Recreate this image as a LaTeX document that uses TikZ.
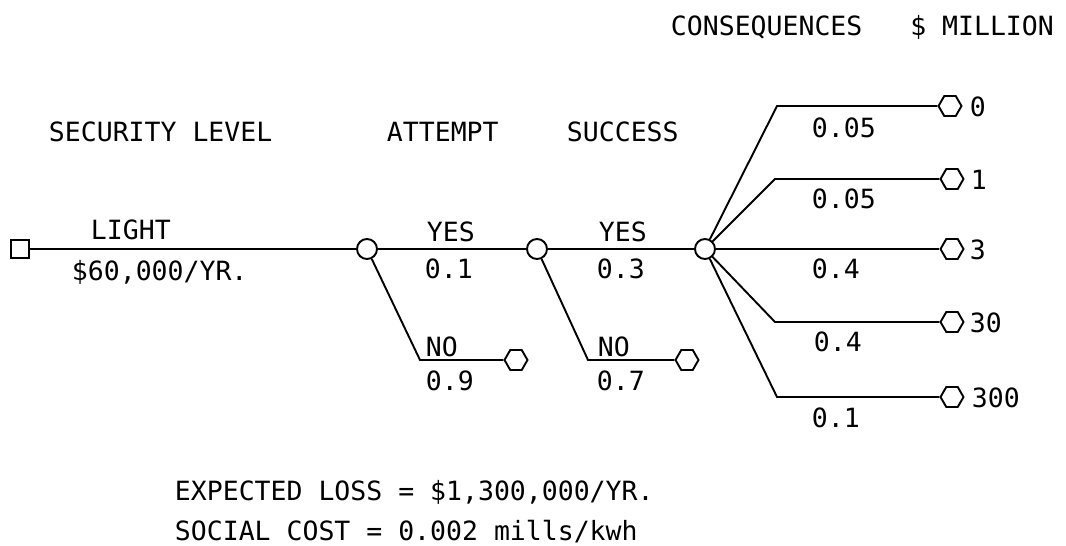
\documentclass[tikz,border=0pt]{standalone}
\usepackage{fontspec}
\setmainfont{DejaVu Sans Mono}
\usetikzlibrary{shapes.geometric}
\begin{document}
\begin{tikzpicture}[x=1pt,y=-1pt,
  every path/.style={line width=1.9pt},
  lbl/.style={anchor=base west, inner sep=0pt, font=\fontsize{26.5}{30}\selectfont},
  decbox/.style={draw, rectangle, minimum size=18pt, inner sep=0pt, line width=1.9pt},
  chance/.style={draw, circle, minimum size=20pt, inner sep=0pt, line width=1.9pt},
  term/.style={draw, regular polygon, regular polygon sides=6, minimum size=23pt, inner sep=0pt, line width=1.9pt}]
\frenchspacing
\useasboundingbox (0,0) rectangle (1066,546);
% nodes
\node[decbox] (d) at (20,249) {};
\node[chance] (c1) at (367,249) {};
\node[chance] (c2) at (537,249) {};
\node[chance] (c3) at (705,249) {};
\node[term] (t1) at (516,360) {};
\node[term] (t2) at (687,360) {};
\coordinate (k1) at (420,360);
\coordinate (k2) at (588,360);
\node[term] (e0) at (950,106) {};
\node[term] (e1) at (952,179) {};
\node[term] (e3) at (952,249) {};
\node[term] (e30) at (952,322) {};
\node[term] (e300) at (952,397) {};
\coordinate (q0) at (777,106);
\coordinate (q1) at (775,179);
\coordinate (q30) at (775,322);
\coordinate (q300) at (777,397);
% connectors
\draw (d) -- (c1);
\draw (c1) -- (c2);
\draw (c2) -- (c3);
\draw (c3) -- (e3);
\draw (c1) -- (k1) -- (t1);
\draw (c2) -- (k2) -- (t2);
\draw (c3) -- (q0) -- (e0);
\draw (c3) -- (q1) -- (e1);
\draw (c3) -- (q30) -- (e30);
\draw (c3) -- (q300) -- (e300);
% texts
\node[lbl] (hcons) at (670,35) {CONSEQUENCES\ \ \ \$ MILLION};
\node[lbl] (hsec) at (48,141) {SECURITY LEVEL};
\node[lbl] (hatt) at (386,141) {ATTEMPT};
\node[lbl] (hsuc) at (566,141) {SUCCESS};
\node[lbl] (light) at (90,239) {LIGHT};
\node[lbl] (cost) at (71,280) {\$60,000/YR.};
\node[lbl] (yes1) at (426,241) {YES};
\node[lbl] (p1) at (424,278) {0.1};
\node[lbl] (no1) at (425,356) {NO};
\node[lbl] (p9) at (425,390) {0.9};
\node[lbl] (yes2) at (598,241) {YES};
\node[lbl] (p3) at (596,278) {0.3};
\node[lbl] (no2) at (597,356) {NO};
\node[lbl] (p7) at (596,390) {0.7};
\node[lbl] (pa) at (811,137) {0.05};
\node[lbl] (pb) at (811,208) {0.05};
\node[lbl] (pc) at (811,278) {0.4};
\node[lbl] (pd) at (813,351) {0.4};
\node[lbl] (pe) at (811,427) {0.1};
\node[lbl] (v0) at (969,116) {0};
\node[lbl] (v1) at (970,189) {1};
\node[lbl] (v3) at (969,259) {3};
\node[lbl] (v30) at (969,332) {30};
\node[lbl] (v300) at (971,407) {300};
\node[lbl] (exp) at (174,500) {EXPECTED LOSS = \$1,300,000/YR.};
\node[lbl] (soc) at (174,540) {SOCIAL COST = 0.002 mills/kwh};
\end{tikzpicture}
\end{document}
